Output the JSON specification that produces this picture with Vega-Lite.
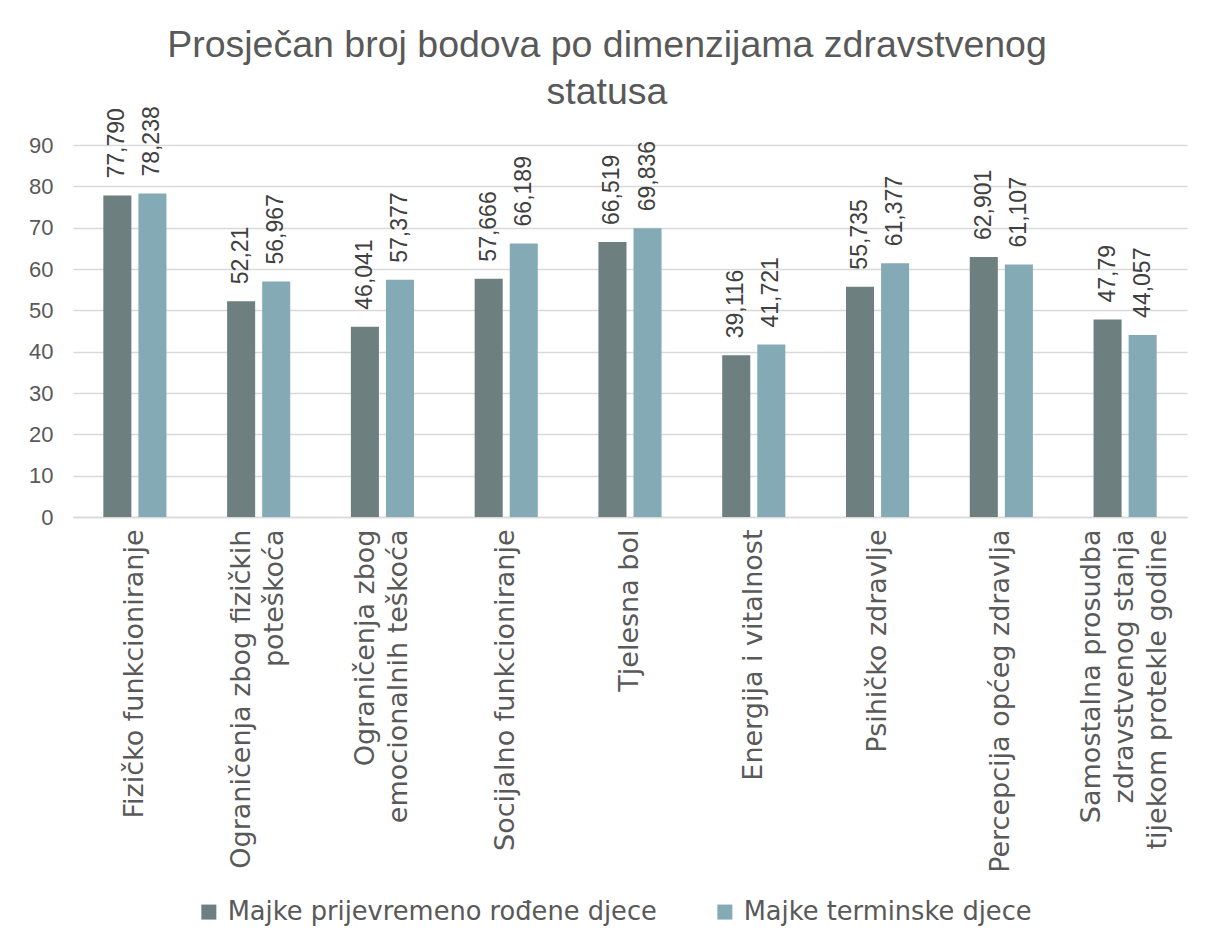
{
  "$schema": "https://vega.github.io/schema/vega-lite/v6.json",
  "autosize": {"type": "none"},
  "width": 1114,
  "height": 372,
  "padding": {"left": 73, "top": 145, "right": 29, "bottom": 430},
  "background": "white",
  "title": {
    "text": ["Prosječan broj bodova po dimenzijama zdravstvenog", "statusa"],
    "font": "Liberation Sans",
    "fontSize": 37.5,
    "fontWeight": "normal",
    "color": "#595959",
    "anchor": "middle",
    "frame": "group",
    "dx": -23,
    "lineHeight": 47,
    "offset": -5
  },
  "data": {
    "values": [
      {"cat": "Fizičko funkcioniranje", "series": "Majke prijevremeno rođene djece", "value": 77.790, "label": "77,790"},
      {"cat": "Fizičko funkcioniranje", "series": "Majke terminske djece", "value": 78.238, "label": "78,238"},
      {"cat": "Ograničenja zbog fizičkih|poteškoća", "series": "Majke prijevremeno rođene djece", "value": 52.21, "label": "52,21"},
      {"cat": "Ograničenja zbog fizičkih|poteškoća", "series": "Majke terminske djece", "value": 56.967, "label": "56,967"},
      {"cat": "Ograničenja zbog|emocionalnih teškoća", "series": "Majke prijevremeno rođene djece", "value": 46.041, "label": "46,041"},
      {"cat": "Ograničenja zbog|emocionalnih teškoća", "series": "Majke terminske djece", "value": 57.377, "label": "57,377"},
      {"cat": "Socijalno funkcioniranje", "series": "Majke prijevremeno rođene djece", "value": 57.666, "label": "57,666"},
      {"cat": "Socijalno funkcioniranje", "series": "Majke terminske djece", "value": 66.189, "label": "66,189"},
      {"cat": "Tjelesna bol", "series": "Majke prijevremeno rođene djece", "value": 66.519, "label": "66,519"},
      {"cat": "Tjelesna bol", "series": "Majke terminske djece", "value": 69.836, "label": "69,836"},
      {"cat": "Energija i vitalnost", "series": "Majke prijevremeno rođene djece", "value": 39.116, "label": "39,116"},
      {"cat": "Energija i vitalnost", "series": "Majke terminske djece", "value": 41.721, "label": "41,721"},
      {"cat": "Psihičko zdravlje", "series": "Majke prijevremeno rođene djece", "value": 55.735, "label": "55,735"},
      {"cat": "Psihičko zdravlje", "series": "Majke terminske djece", "value": 61.377, "label": "61,377"},
      {"cat": "Percepcija općeg zdravlja", "series": "Majke prijevremeno rođene djece", "value": 62.901, "label": "62,901"},
      {"cat": "Percepcija općeg zdravlja", "series": "Majke terminske djece", "value": 61.107, "label": "61,107"},
      {"cat": "Samostalna prosudba|zdravstvenog stanja|tijekom protekle godine", "series": "Majke prijevremeno rođene djece", "value": 47.79, "label": "47,79"},
      {"cat": "Samostalna prosudba|zdravstvenog stanja|tijekom protekle godine", "series": "Majke terminske djece", "value": 44.057, "label": "44,057"}
    ]
  },
  "encoding": {
    "x": {
      "field": "cat",
      "type": "nominal",
      "sort": null,
      "title": null,
      "scale": {"paddingInner": 0.49, "paddingOuter": 0.245},
      "axis": {
        "labelExpr": "split(datum.label, '|')",
        "labelAngle": -90,
        "labelAlign": "right",
        "labelBaseline": "middle",
        "labelFont": "DejaVu Sans",
        "labelFontSize": 27,
        "labelColor": "#595959",
        "labelLineHeight": 33,
        "labelPadding": 12,
        "labelOffset": {
          "condition": [
            {"test": "length(split(datum.value, '|')) == 3", "value": -33},
            {"test": "length(split(datum.value, '|')) == 2", "value": -16.5}
          ],
          "value": 0
        },
        "labelLimit": 0,
        "ticks": false,
        "domainColor": "#D9D9D9",
        "domainWidth": 1.5,
        "grid": false
      }
    },
    "xOffset": {
      "field": "series",
      "type": "nominal",
      "sort": ["Majke prijevremeno rođene djece", "Majke terminske djece"],
      "scale": {"paddingInner": 0.2, "paddingOuter": 0}
    },
    "y": {
      "field": "value",
      "type": "quantitative",
      "title": null,
      "scale": {"domain": [0, 90], "nice": false},
      "axis": {
        "values": [0, 10, 20, 30, 40, 50, 60, 70, 80, 90],
        "labelFont": "Liberation Sans",
        "labelFontSize": 22,
        "labelColor": "#595959",
        "labelPadding": 20,
        "ticks": false,
        "domain": false,
        "gridColor": "#D9D9D9",
        "gridWidth": 1.5
      }
    }
  },
  "layer": [
    {
      "mark": {"type": "bar"},
      "encoding": {
        "color": {
          "field": "series",
          "type": "nominal",
          "sort": ["Majke prijevremeno rođene djece", "Majke terminske djece"],
          "scale": {"range": ["#6E7F80", "#84ABB5"]},
          "legend": {
            "title": null,
            "orient": "none",
            "legendX": 123,
            "legendY": 754,
            "direction": "horizontal",
            "symbolType": "square",
            "symbolSize": 225,
            "symbolStrokeWidth": 0,
            "labelFont": "DejaVu Sans",
            "labelFontSize": 25.7,
            "labelColor": "#595959",
            "labelLimit": 0,
            "labelOffset": 6,
            "columnPadding": 55
          }
        }
      }
    },
    {
      "mark": {
        "type": "text",
        "angle": -90,
        "align": "left",
        "baseline": "middle",
        "dx": 17,
        "font": "Liberation Sans",
        "fontSize": 23,
        "color": "#404040"
      },
      "encoding": {
        "text": {"field": "label"}
      }
    }
  ],
  "config": {
    "view": {"stroke": null}
  }
}
